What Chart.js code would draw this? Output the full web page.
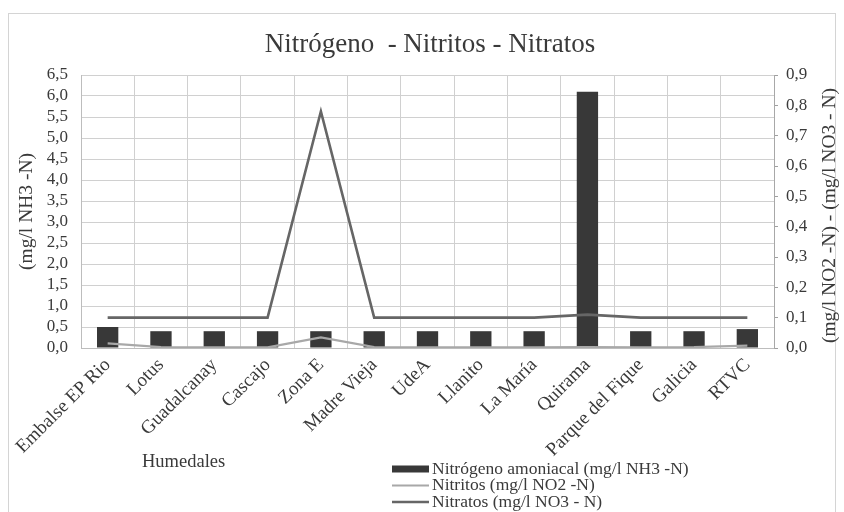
<!DOCTYPE html>
<html lang="es">
<head>
<meta charset="utf-8">
<title>Nitrógeno - Nitritos - Nitratos</title>
<script src="https://cdn.jsdelivr.net/npm/chart.js@4.4.1/dist/chart.umd.min.js"></script>
<style>
  html, body { margin: 0; padding: 0; background: #ffffff; }
  #wrap { width: 844px; height: 512px; position: relative; }
  canvas { display: block; }
</style>
</head>
<body>
<div id="wrap"><canvas id="c" width="844" height="512"></canvas></div>
<script>
// Humedales muestreados
const humedales = ['Embalse EP Rio', 'Lotus', 'Guadalcanay', 'Cascajo', 'Zona E', 'Madre Vieja',
  'UdeA', 'Llanito', 'La María', 'Quirama', 'Parque del Fique', 'Galicia', 'RTVC'];

// Nitrógeno amoniacal (mg/l NH3 -N) — eje izquierdo
const amoniacal = [0.5, 0.4, 0.4, 0.4, 0.4, 0.4, 0.4, 0.4, 0.4, 6.1, 0.4, 0.4, 0.45];

// Nitritos (mg/l NO2 -N) — eje derecho
const nitritos = [0.015, 0.003, 0.002, 0.002, 0.035, 0.003, 0.002, 0.002, 0.002, 0.003, 0.002, 0.003, 0.008];

// Nitratos (mg/l NO3 - N) — eje derecho
const nitratos = [0.1, 0.1, 0.1, 0.1, 0.78, 0.1, 0.1, 0.1, 0.1, 0.11, 0.1, 0.1, 0.1];

const serif = '"Liberation Serif", "Times New Roman", "DejaVu Serif", serif';
const textColor = '#3a3a3a';
const gridColor = '#d0d0d0';
const comma = v => Number(v).toFixed(1).replace('.', ',');

// Fondo, marco exterior, títulos de ejes, etiqueta "Humedales" y leyenda vertical
const decorations = {
  id: 'decorations',
  beforeDraw(chart) {
    const ctx = chart.ctx;
    ctx.save();
    ctx.fillStyle = '#ffffff';
    ctx.fillRect(0, 0, chart.width, chart.height);
    ctx.strokeStyle = '#d4d4d4';
    ctx.lineWidth = 1;
    ctx.strokeRect(8.5, 13.5, 827, 520);
    ctx.restore();
  },
  afterDraw(chart) {
    const ctx = chart.ctx;
    const area = chart.chartArea;
    ctx.save();
    ctx.fillStyle = textColor;
    ctx.textAlign = 'center';
    ctx.textBaseline = 'middle';

    // título del gráfico
    ctx.font = '27px ' + serif;
    ctx.fillText('Nitrógeno  - Nitritos - Nitratos', 430, 45);

    ctx.font = '19.5px ' + serif;
    // título eje izquierdo
    ctx.save();
    ctx.translate(27, (area.top + area.bottom) / 2);
    ctx.rotate(-Math.PI / 2);
    ctx.fillText('(mg/l NH3 -N)', 0, 0);
    ctx.restore();

    // título eje derecho
    ctx.save();
    ctx.translate(830, (area.top + area.bottom) / 2 + 4);
    ctx.rotate(-Math.PI / 2);
    ctx.fillText('(mg/l NO2 -N) - (mg/l NO3 - N)', 0, 0);
    ctx.restore();

    // título del eje de categorías
    ctx.font = '18.5px ' + serif;
    ctx.textAlign = 'left';
    ctx.fillText('Humedales', 142, 462);

    // leyenda
    ctx.font = '17.5px ' + serif;
    const x0 = 392, symW = 37, rows = [469, 485.5, 502];
    chart.data.datasets.forEach((ds, i) => {
      const y = rows[i];
      if (ds.type === 'bar') {
        ctx.fillStyle = ds.backgroundColor;
        ctx.fillRect(x0, y - 3.5, symW, 7);
      } else {
        ctx.strokeStyle = ds.borderColor;
        ctx.lineWidth = ds.borderWidth;
        ctx.beginPath();
        ctx.moveTo(x0, y);
        ctx.lineTo(x0 + symW, y);
        ctx.stroke();
      }
      ctx.fillStyle = textColor;
      ctx.fillText(ds.label, x0 + symW + 3, y);
    });
    ctx.restore();
  }
};

new Chart(document.getElementById('c'), {
  data: {
    labels: humedales,
    datasets: [
      {
        type: 'bar',
        label: 'Nitrógeno amoniacal (mg/l NH3 -N)',
        data: amoniacal,
        yAxisID: 'y',
        backgroundColor: '#383838',
        barPercentage: 0.4,
        categoryPercentage: 1.0,
        order: 3
      },
      {
        type: 'line',
        label: 'Nitritos (mg/l NO2 -N)',
        data: nitritos,
        yAxisID: 'y1',
        borderColor: '#a8a8a8',
        borderWidth: 2.2,
        pointRadius: 0,
        tension: 0,
        order: 1
      },
      {
        type: 'line',
        label: 'Nitratos (mg/l NO3 - N)',
        data: nitratos,
        yAxisID: 'y1',
        borderColor: '#666666',
        borderWidth: 2.6,
        pointRadius: 0,
        tension: 0,
        order: 2
      }
    ]
  },
  options: {
    responsive: false,
    animation: false,
    devicePixelRatio: 1,
    layout: { padding: { left: 0, right: 0, top: 75, bottom: 0 } },
    plugins: {
      legend: { display: false },
      tooltip: { enabled: false },
      title: { display: false }
    },
    scales: {
      x: {
        offset: true,
        grid: { display: true, offset: true, color: gridColor, drawTicks: false },
        border: { display: true, color: '#bdbdbd' },
        ticks: {
          autoSkip: false,
          maxRotation: 45,
          minRotation: 45,
          padding: 6,
          color: textColor,
          font: { family: serif, size: 19 }
        },
        afterFit(scale) { scale.height = 164; }
      },
      y: {
        position: 'left',
        min: 0,
        max: 6.5,
        grid: { color: gridColor, drawTicks: false },
        border: { display: true, color: '#bdbdbd' },
        ticks: {
          stepSize: 0.5,
          autoSkip: false,
          padding: 13,
          color: textColor,
          font: { family: serif, size: 17 },
          callback: v => comma(v)
        },
        afterFit(scale) { scale.width = 81; }
      },
      y1: {
        position: 'right',
        min: 0,
        max: 0.9,
        grid: { drawOnChartArea: false, drawTicks: true, tickLength: 4, color: '#a0a0a0' },
        border: { display: true, color: '#a8a8a8' },
        ticks: {
          stepSize: 0.1,
          autoSkip: false,
          padding: 8,
          color: textColor,
          font: { family: serif, size: 17 },
          callback: v => comma(v)
        },
        afterFit(scale) { scale.width = 70; }
      }
    }
  },
  plugins: [decorations]
});
</script>
</body>
</html>
